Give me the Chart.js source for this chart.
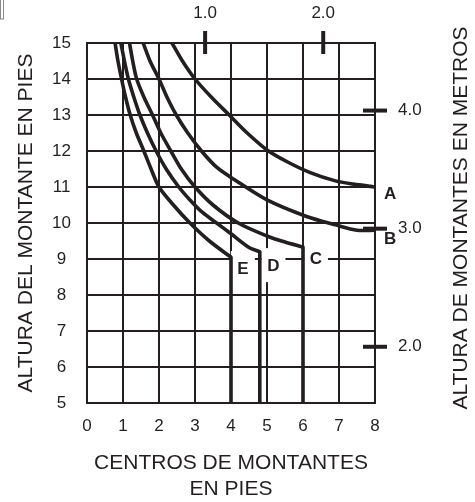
<!DOCTYPE html>
<html>
<head>
<meta charset="utf-8">
<script src="https://cdn.jsdelivr.net/npm/chart.js@4.4.0/dist/chart.umd.min.js"></script>
<style>
  html, body { margin: 0; padding: 0; background: #fff; }
  canvas { display: block; }
</style>
</head>
<body>
<canvas id="chart" width="475" height="502"></canvas>
<script>
const INK = '#231f20'
const FONT = "'Liberation Sans', Arial, sans-serif"
const FT_PER_M = 3.28084

// curve values (x = stud spacing ft, y = stud height ft)
const curveAx = [2.36, 2.65, 3.0, 3.45, 3.95, 4.45, 5.0, 5.6, 6.2, 6.9, 7.4, 8.0]
const curveAy = [15, 14.5, 14, 13.5, 13, 12.5, 12.03, 11.68, 11.4, 11.17, 11.08, 11.0]

const curveBx = [1.56, 1.75, 2.0, 2.22, 2.48, 2.8, 3.18, 3.6, 4.1, 5.0, 6.1, 6.9, 7.5, 8.0]
const curveBy = [15, 14.5, 14, 13.5, 13, 12.5, 12, 11.55, 11.2, 10.64, 10.18, 9.95, 9.8, 9.8]

const curveCx = [1.18, 1.27, 1.38, 1.58, 1.82, 2.05, 2.33, 2.62, 3.0, 3.5, 4.2, 5.0, 5.5, 6.0]
const curveCy = [15, 14.5, 14, 13.5, 13, 12.5, 12, 11.5, 11, 10.5, 10.0, 9.64, 9.47, 9.33]

const curveDx = [0.94, 1.04, 1.15, 1.3, 1.47, 1.68, 1.92, 2.2, 2.55, 2.86, 3.2, 3.6, 4.0, 4.5, 4.8]
const curveDy = [15, 14.5, 14, 13.5, 13, 12.5, 12, 11.5, 11, 10.64, 10.3, 10.0, 9.7, 9.32, 9.2]

const curveEx = [0.78, 0.86, 0.96, 1.07, 1.2, 1.37, 1.58, 1.78, 2.0, 2.4, 2.86, 3.4, 4.0]
const curveEy = [15, 14.5, 14, 13.5, 13, 12.5, 12, 11.5, 11, 10.5, 10.0, 9.5, 9.05]

// vertical drops below the bends of C, D, E (x, top y, bottom y)
const stemC = [6.0, 9.33, 5]
const stemD = [4.8, 9.2, 5]
const stemE = [4.0, 9.05, 5]

const curveNames = ['A', 'B', 'C', 'D', 'E']
const metersTop = [1.0, 2.0]
const metersTopLabels = ['1.0', '2.0']
const metersRight = [2.0, 3.0, 4.0]
const metersRightLabels = ['2.0', '3.0', '4.0']

const curves = [
  [curveAx, curveAy], [curveBx, curveBy], [curveCx, curveCy], [curveDx, curveDy], [curveEx, curveEy]
]
const stems = [stemC, stemD, stemE]

const decorations = {
  id: 'decorations',
  beforeDraw (chart) {
    const { ctx, width, height } = chart
    ctx.save()
    ctx.fillStyle = '#fff'
    ctx.fillRect(0, 0, width, height)
    // small scan mark in the corner
    ctx.strokeStyle = '#8a8a8a'
    ctx.lineWidth = 1
    ctx.strokeRect(0.5, -2, 3, 21)
    ctx.restore()
  },
  beforeDatasetsDraw (chart, args, opts) {
    const { ctx, chartArea, scales: { x, y } } = chart
    ctx.save()
    ctx.font = `bold 17px ${FONT}`
    ctx.textAlign = 'center'
    ctx.textBaseline = 'middle'
    curveNames.forEach((name) => {
      const at = opts.labelAt[name]
      const px = x.getPixelForValue(at[0])
      const py = y.getPixelForValue(at[1])
      if (px < chartArea.right) {
        ctx.fillStyle = '#fff'
        ctx.fillRect(px - 12, py - 17, 24, 34)
      }
      ctx.fillStyle = INK
      ctx.fillText(name, px, py + 1)
    })
    ctx.restore()
  },
  afterDraw (chart) {
    const { ctx, chartArea, scales: { xTop, yRight } } = chart
    ctx.save()
    ctx.strokeStyle = INK
    ctx.lineWidth = 4
    xTop.ticks.forEach((t) => {
      const px = xTop.getPixelForValue(t.value)
      ctx.beginPath()
      ctx.moveTo(px, chartArea.top - 12)
      ctx.lineTo(px, chartArea.top + 11)
      ctx.stroke()
    })
    yRight.ticks.forEach((t) => {
      const py = yRight.getPixelForValue(t.value)
      ctx.beginPath()
      ctx.moveTo(chartArea.right - 12, py)
      ctx.lineTo(chartArea.right + 12, py)
      ctx.stroke()
    })
    // right axis title reads bottom to top
    ctx.font = `21px ${FONT}`
    ctx.fillStyle = INK
    ctx.textAlign = 'center'
    ctx.textBaseline = 'middle'
    ctx.translate(461, 218)
    ctx.rotate(-Math.PI / 2)
    ctx.fillText('ALTURA DE MONTANTES EN METROS', 0, 0)
    ctx.restore()
  }
}

const tickFont = { size: 17, family: FONT }
const lineStyle = { borderColor: INK, borderWidth: 3.6, pointRadius: 0, fill: false, borderCapStyle: 'butt', borderJoinStyle: 'round' }

const datasets = curves.map((c, i) => ({
  ...lineStyle,
  label: curveNames[i],
  data: c[0].map((vx, k) => ({ x: vx, y: c[1][k] })),
  tension: 0.3
})).concat(stems.map((s, i) => ({
  ...lineStyle,
  label: curveNames[i + 2] + ' stem',
  data: [{ x: s[0], y: s[1] }, { x: s[0], y: s[2] }],
  tension: 0
})))

new Chart(document.getElementById('chart').getContext('2d'), {
  type: 'line',
  data: { datasets },
  options: {
    responsive: false,
    animation: false,
    layout: { padding: 0 },
    plugins: {
      legend: { display: false },
      tooltip: { enabled: false },
      decorations: {
        labelAt: {
          A: [8.42, 10.83],
          B: [8.42, 9.58],
          C: [6.36, 9.03],
          D: [5.18, 8.83],
          E: [4.33, 8.75]
        }
      }
    },
    scales: {
      x: {
        type: 'linear',
        position: 'bottom',
        min: 0,
        max: 8,
        ticks: { stepSize: 1, padding: 13, color: INK, font: tickFont },
        grid: { color: INK, lineWidth: 2, drawTicks: false },
        border: { color: INK, width: 2 },
        title: {
          display: true,
          text: ['CENTROS DE MONTANTES', 'EN PIES'],
          color: INK,
          font: { size: 21, family: FONT, lineHeight: 1.24 },
          padding: { top: 0, bottom: 0 }
        },
        afterFit (s) { s.height = 99 }
      },
      y: {
        type: 'linear',
        position: 'left',
        min: 5,
        max: 15,
        ticks: { stepSize: 1, padding: 16, crossAlign: 'center', color: INK, font: tickFont },
        grid: { color: INK, lineWidth: 2, drawTicks: false },
        border: { color: INK, width: 2 },
        title: {
          display: true,
          text: 'ALTURA DEL MONTANTE EN PIES',
          color: INK,
          font: { size: 21, family: FONT, lineHeight: 1.24 },
          padding: { top: 13, bottom: 0 }
        },
        afterFit (s) { s.width = 87 }
      },
      xTop: {
        type: 'linear',
        position: 'top',
        min: 0,
        max: 8 / FT_PER_M,
        afterBuildTicks (s) { s.ticks = metersTop.map((v) => ({ value: v })) },
        ticks: { padding: 19, color: INK, font: tickFont, callback: (v, i) => metersTopLabels[i] },
        grid: { display: false, drawTicks: false },
        border: { color: INK, width: 2 },
        afterFit (s) { s.height = 43 }
      },
      yRight: {
        type: 'linear',
        position: 'right',
        min: 5 / FT_PER_M,
        max: 15 / FT_PER_M,
        afterBuildTicks (s) { s.ticks = metersRight.map((v) => ({ value: v })) },
        ticks: { padding: 23, color: INK, font: tickFont, callback: (v, i) => metersRightLabels[i] },
        grid: { display: false, drawTicks: false },
        border: { color: INK, width: 2 },
        afterFit (s) { s.width = 100 }
      }
    }
  },
  plugins: [decorations]
})
</script>
</body>
</html>
